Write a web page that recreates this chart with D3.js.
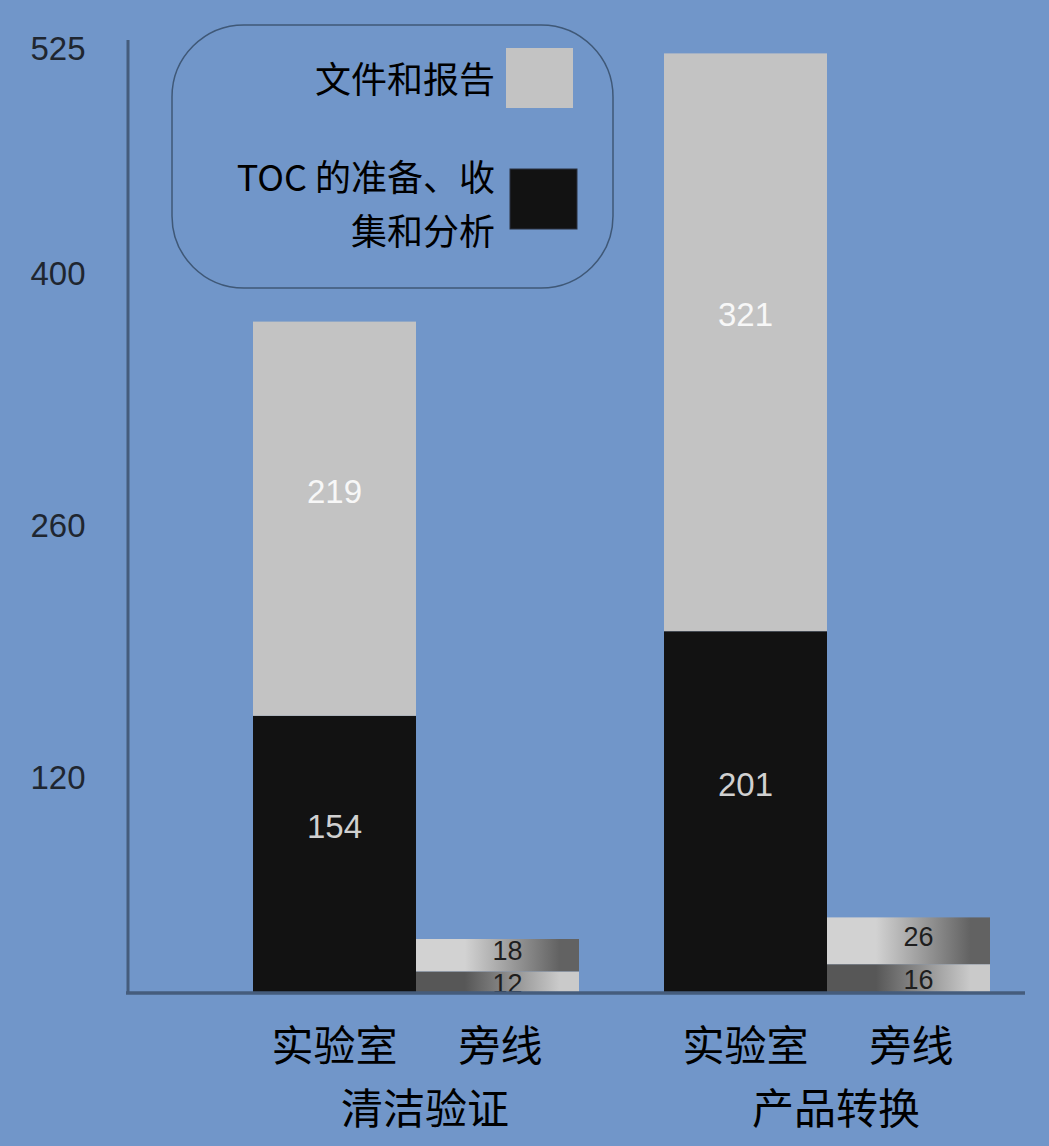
<!DOCTYPE html>
<html>
<head>
<meta charset="utf-8">
<script src="https://cdn.jsdelivr.net/npm/d3@7"></script>
<style>
  html, body { margin: 0; padding: 0; background: #7196c9; }
  svg { display: block; }
</style>
</head>
<body>
<div id="chart"></div>
<script>
// categories
const groups = ["清洁验证", "产品转换"];
const places = ["实验室", "旁线"];
// series: [实验室, 旁线] per group
const tocValues = [[154, 12], [201, 16]];   // TOC 的准备、收集和分析
const docValues = [[219, 18], [321, 26]];   // 文件和报告
const yTicks = [120, 260, 400, 525];
const legendItems = [
  { lines: ["文件和报告"], key: "doc" },
  { lines: ["TOC 的准备、收", "集和分析"], key: "toc" }
];

const W = 1049, H = 1146;
const baseY = 993, topY = 48, axisX = 128;
const latin = "'Liberation Sans', Arial, sans-serif";
const cjk = "'Noto Sans CJK SC', 'Liberation Sans', sans-serif";

const svg = d3.select("#chart").append("svg")
  .attr("width", W).attr("height", H);

const defs = svg.append("defs");
// small side-line bars use a horizontal sheen
function grad(id, from, to) {
  const g = defs.append("linearGradient").attr("id", id)
    .attr("x1", "0%").attr("x2", "100%").attr("y1", "0%").attr("y2", "0%");
  g.append("stop").attr("offset", "0%").attr("stop-color", from);
  g.append("stop").attr("offset", "30%").attr("stop-color", from);
  g.append("stop").attr("offset", "88%").attr("stop-color", to);
  g.append("stop").attr("offset", "100%").attr("stop-color", to);
}
grad("gDoc", "#d2d2d2", "#626262");
grad("gToc", "#575757", "#cacaca");

const y = d3.scaleLinear().domain([0, 525]).range([baseY, topY]);
const xGroup = d3.scaleBand().domain(groups).range([253, 990]).paddingInner(85 / 411);
const xPlace = d3.scaleBand().domain(places).range([0, xGroup.bandwidth()]);

// rows for drawing
const rows = [];
groups.forEach((g, gi) => {
  places.forEach((p, pi) => {
    const t = tocValues[gi][pi], d = docValues[gi][pi];
    rows.push({ g, p, key: "toc", y0: 0, y1: t, v: t, small: pi === 1 });
    rows.push({ g, p, key: "doc", y0: t, y1: t + d, v: d, small: pi === 1 });
  });
});

const fillOf = r => r.small ? (r.key === "doc" ? "url(#gDoc)" : "url(#gToc)")
                            : (r.key === "doc" ? "#c3c3c3" : "#121212");

svg.append("g").selectAll("rect").data(rows).join("rect")
  .attr("x", r => xGroup(r.g) + xPlace(r.p))
  .attr("width", xPlace.bandwidth())
  .attr("y", r => y(r.y1))
  .attr("height", r => y(r.y0) - y(r.y1))
  .attr("fill", fillOf);

// value labels
svg.append("g").selectAll("text").data(rows).join("text")
  .attr("x", r => xGroup(r.g) + xPlace(r.p) + xPlace.bandwidth() / 2 + (r.small ? 10 : 0))
  .attr("y", r => {
    const mid = (y(r.y0) + y(r.y1)) / 2;
    if (r.small) return r.key === "doc" ? mid - 5 : mid + 1;
    return mid - 28;
  })
  .attr("dy", "0.36em")
  .attr("text-anchor", "middle")
  .attr("font-family", latin)
  .attr("font-size", r => r.small ? 27 : 33)
  .attr("fill", r => r.small ? "#1e1e1e" : (r.key === "doc" ? "#f7f7f7" : "#d0d0d0"))
  .text(r => r.v);

// axes
const axisColor = "#455c7c";
svg.append("line").attr("x1", axisX).attr("x2", axisX)
  .attr("y1", 40).attr("y2", baseY + 1)
  .attr("stroke", axisColor).attr("stroke-width", 3);
svg.append("line").attr("x1", axisX - 2).attr("x2", 1025)
  .attr("y1", baseY).attr("y2", baseY)
  .attr("stroke", axisColor).attr("stroke-width", 3.5);

svg.append("g").selectAll("text").data(yTicks).join("text")
  .attr("x", 58).attr("y", d => y(d))
  .attr("dy", "0.36em")
  .attr("text-anchor", "middle")
  .attr("font-family", latin).attr("font-size", 33)
  .attr("fill", "#1f2630")
  .text(d => d);

// category labels
const placeLabels = [];
groups.forEach(g => places.forEach(p => placeLabels.push({ g, p })));
svg.append("g").selectAll("text").data(placeLabels).join("text")
  .attr("x", d => xGroup(d.g) + xPlace(d.p) + xPlace.bandwidth() / 2 + (d.p === "旁线" ? 3 : 0))
  .attr("y", 1061)
  .attr("text-anchor", "middle")
  .attr("font-family", cjk).attr("font-size", 42)
  .attr("fill", "#000")
  .text(d => d.p);

svg.append("g").selectAll("text").data(groups).join("text")
  .attr("x", g => xGroup(g) + xGroup.bandwidth() / 2 + 9)
  .attr("y", 1124)
  .attr("text-anchor", "middle")
  .attr("font-family", cjk).attr("font-size", 42)
  .attr("fill", "#000")
  .text(g => g);

// legend
const lg = svg.append("g");
lg.append("rect").attr("x", 172).attr("y", 25).attr("width", 441).attr("height", 263)
  .attr("rx", 72).attr("ry", 72)
  .attr("fill", "none").attr("stroke", "#3f5877").attr("stroke-width", 1.5);
const swatch = [
  { x: 506, y: 48, fill: "#c3c3c3", textY: [93] },
  { x: 510, y: 169, fill: "#121212", textY: [191, 245] }
];
legendItems.forEach((it, i) => {
  const s = swatch[i];
  lg.append("rect").attr("x", s.x).attr("y", s.y).attr("width", 67).attr("height", 60)
    .attr("fill", s.fill).attr("stroke", i ? "#2a3140" : "none").attr("stroke-width", 1);
  it.lines.forEach((ln, j) => {
    lg.append("text").attr("x", 495).attr("y", s.textY[j])
      .attr("text-anchor", "end")
      .attr("font-family", cjk).attr("font-size", 36)
      .attr("fill", "#000")
      .text(ln);
  });
});
</script>
</body>
</html>
